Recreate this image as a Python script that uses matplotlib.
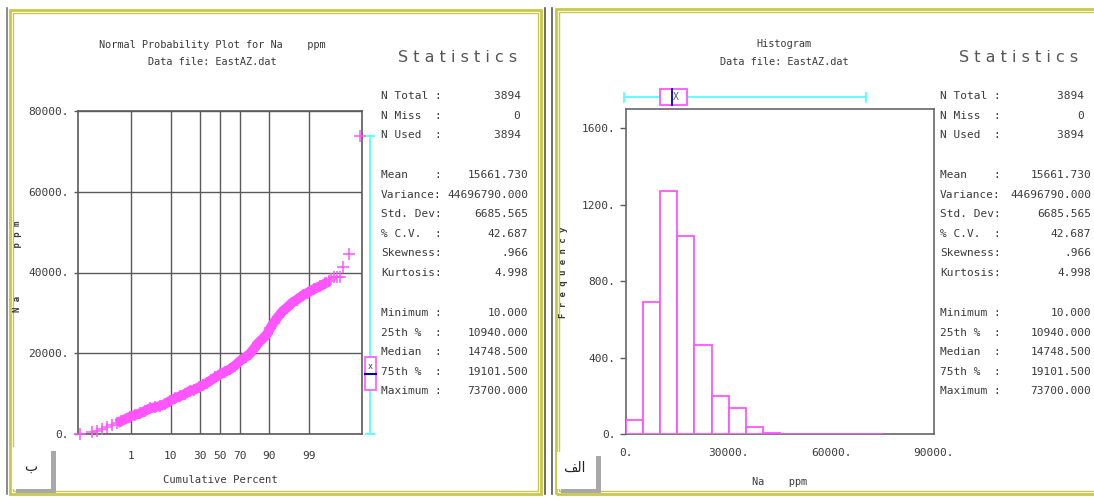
import matplotlib
matplotlib.use("Agg")
import matplotlib.pyplot as plt
from matplotlib.patches import Rectangle
from matplotlib.lines import Line2D
import matplotlib.transforms as mtransforms
from statistics import NormalDist

# ---- data ----
stat_labels = ["N Total :", "N Miss  :", "N Used  :", "",
               "Mean    :", "Variance:", "Std. Dev:", "% C.V.  :", "Skewness:", "Kurtosis:", "",
               "Minimum :", "25th %  :", "Median  :", "75th %  :", "Maximum :"]
stat_values = ["3894 ", "0 ", "3894 ", "",
               "15661.730", "44696790.000", "6685.565", "42.687", ".966", "4.998", "",
               "10.000", "10940.000", "14748.500", "19101.500", "73700.000"]

na_min, na_q1, na_med, na_q3, na_max, na_mean = 10.0, 10940.0, 14748.5, 19101.5, 73700.0, 15661.73

# normal probability plot: cumulative percent vs Na (ppm)
cum_pct = [0.013, 0.04, 0.064, 0.1, 0.155, 0.23, 0.35, 0.5, 0.94, 1.3, 1.8, 2.5, 3.4, 4.5, 6,
           7.5, 9.5, 12, 15, 18, 22, 25, 29, 33, 37, 41, 45, 50, 55, 60, 65, 70, 75, 78, 81,
           84, 87, 89, 90.5, 92, 93.5, 95, 96, 97, 97.8, 98.5, 98.9, 99.3, 99.55, 99.7, 99.78,
           99.82, 99.85, 99.886, 99.912, 99.936, 99.961, 99.987]
na_vals = [10, 570, 820, 1240, 1660, 2150, 2650, 3200, 4290, 4700, 5100, 5700, 6370, 6600, 7000,
           7430, 8170, 8840, 9410, 9910, 10730, 10940, 11560, 12140, 12710, 13380, 14000, 14748,
           15400, 16000, 16900, 18100, 19101, 19800, 21000, 22500, 23700, 24700, 26180, 27600,
           29000, 30500, 31300, 32500, 33300, 34400, 35000, 35900, 36600, 37300, 37800,
           38400, 39000, 39000, 39000, 41300, 44600, 73700]
pct_ticks = [1, 10, 30, 50, 70, 90, 99]

# histogram, bins of 5000 ppm
bin_left = [0, 5000, 10000, 15000, 20000, 25000, 30000, 35000, 40000, 45000, 50000, 55000,
            60000, 65000, 70000]
bin_count = [73, 689, 1270, 1035, 463, 198, 134, 38, 5, 0, 0, 0, 0, 0, 1]

W, H = 1094, 497
MAG = "#ff55ff"
CYAN = "#55ffff"
TXT = "#3a3a3a"
GRID = "#5a5a5a"
OLIVE = "#c8c84a"
MONO = "DejaVu Sans Mono"


def rect(x0, y0, x1, y1):
    return [x0 / W, 1 - y1 / H, (x1 - x0) / W, (y1 - y0) / H]


def ftext(x, y, s, **kw):
    kw.setdefault("family", MONO)
    kw.setdefault("color", TXT)
    kw.setdefault("va", "center")
    fig.text(x / W, 1 - y / H, s, **kw)


def fline(xs, ys, **kw):
    fig.add_artist(Line2D([x / W for x in xs], [1 - y / H for y in ys], **kw))


def fbox(x0, y0, x1, y1, **kw):
    fig.add_artist(Rectangle((x0 / W, 1 - y1 / H), (x1 - x0) / W, (y1 - y0) / H, **kw))


fig = plt.figure(figsize=(W / 100, H / 100), dpi=100)

# ---- panel frames ----
fline([7, 7], [8, 494], color="#777777", lw=1.2)
fline([545, 545], [8, 494], color="#555555", lw=1.2)
fline([552, 552], [8, 494], color="#555555", lw=1.2)
for off, lw in [(0, 2.0), (3, 1.0)]:
    fbox(10 + off, 10 + off, 541 - off, 494 - off, fill=False, ec=OLIVE, lw=lw)
    fbox(556 + off, 9 + off, 1100, 494 - off, fill=False, ec=OLIVE, lw=lw)

# ---- letter tags ----
fbox(16, 451, 56, 493, color="#a8a8a8", lw=0)
fbox(12, 447, 51, 489, color="white", lw=0)
ftext(31, 467, "\u0628", family="DejaVu Sans", fontsize=10, ha="center", color="#222222")
fbox(561, 456, 601, 493, color="#a8a8a8", lw=0)
fbox(557, 452, 596, 489, color="white", lw=0)
ftext(574, 468, "\ufed2\ufedf\ufe8d", family="DejaVu Sans", fontsize=10, ha="center", color="#222222")

# ---- left: normal probability plot ----
nd = NormalDist()
z = [nd.inv_cdf(p / 100) for p in cum_pct]

ax1 = fig.add_axes(rect(78, 111, 362, 434))
ax1.set_xlim(-3.71, 3.71)
ax1.set_ylim(0, 80000)
ax1.set_xticks([nd.inv_cdf(p / 100) for p in pct_ticks])
ax1.set_xticklabels([str(p) for p in pct_ticks])
ax1.set_yticks([0, 20000, 40000, 60000, 80000])
ax1.set_yticklabels(["0.", "20000.", "40000.", "60000.", "80000."])
ax1.grid(True, color=GRID, lw=1)
ax1.tick_params(colors=GRID, labelcolor=TXT, labelsize=8, length=3, width=1)
ax1.tick_params(axis="x", length=0, pad=12)
for lab in ax1.get_xticklabels() + ax1.get_yticklabels():
    lab.set_family(MONO)
for sp in ax1.spines.values():
    sp.set_color(GRID)
    sp.set_linewidth(1.2)

dense = [i for i, p in enumerate(cum_pct) if 0.35 <= p <= 99.78]
ax1.plot([z[i] for i in dense], [na_vals[i] for i in dense], color=MAG, lw=7,
         solid_capstyle="butt", zorder=3)
ax1.plot(z, na_vals, ls="none", marker="+", ms=8.5, mew=1.1, color=MAG, zorder=4,
         clip_on=False)

# vertical box plot beside the axis
bt = mtransforms.blended_transform_factory(ax1.transAxes, ax1.transData)
ax1.add_line(Line2D([1.028, 1.028], [na_min, na_max], transform=bt, color=CYAN, lw=1.3,
                    clip_on=False))
for v in (na_min, na_max):
    ax1.add_line(Line2D([1.014, 1.042], [v, v], transform=bt, color=CYAN, lw=1.3, clip_on=False))
ax1.add_patch(Rectangle((1.011, na_q1), 0.038, na_q3 - na_q1, transform=bt, fc="white", ec=MAG,
                        lw=1.2, clip_on=False, zorder=5))
ax1.add_line(Line2D([1.011, 1.049], [na_med, na_med], transform=bt, color="#0000aa", lw=1.5,
                    clip_on=False, zorder=6))
ax1.text(1.03, na_mean, "x", transform=bt, ha="center", va="bottom", fontsize=6, color=TXT,
         family=MONO, clip_on=False, zorder=6)

ftext(212, 45, "Normal Probability Plot for Na    ppm", fontsize=7.4, ha="center")
ftext(212, 62, "Data file: EastAZ.dat", fontsize=7.4, ha="center")
ftext(220, 480, "Cumulative Percent", fontsize=7.6, ha="center")
ftext(18, 266, "N a         p p m", fontsize=6.5, ha="center", rotation=90, weight="bold")

# ---- right: histogram ----
ax2 = fig.add_axes(rect(626, 109, 934, 434))
ax2.set_xlim(0, 90000)
ax2.set_ylim(0, 1700)
ax2.bar(bin_left, bin_count, width=5000, align="edge", fc="white", ec=MAG, lw=1.3, zorder=3)
ax2.set_xticks([0, 30000, 60000, 90000])
ax2.set_xticklabels(["0.", "30000.", "60000.", "90000."])
ax2.set_yticks([0, 400, 800, 1200, 1600])
ax2.set_yticklabels(["0.", "400.", "800.", "1200.", "1600."])
ax2.tick_params(colors=GRID, labelcolor=TXT, labelsize=8, length=4, width=1)
ax2.tick_params(axis="x", length=0, pad=10)
for lab in ax2.get_xticklabels() + ax2.get_yticklabels():
    lab.set_family(MONO)
for sp in ax2.spines.values():
    sp.set_color("#666666")
    sp.set_linewidth(1.2)

# horizontal box plot above the histogram
ax3 = fig.add_axes(rect(624, 88, 866, 106))
ax3.set_xlim(na_min, na_max)
ax3.set_ylim(0, 1)
ax3.axis("off")
ax3.plot([na_min, na_max], [0.5, 0.5], color=CYAN, lw=1.3, clip_on=False)
for v in (na_min, na_max):
    ax3.plot([v, v], [0.2, 0.75], color=CYAN, lw=1.3, clip_on=False)
ax3.add_patch(Rectangle((na_q1, 0.04), na_q3 - na_q1, 0.92, fc="white", ec=MAG, lw=1.3,
                        zorder=3, clip_on=False))
ax3.plot([na_med, na_med], [0.04, 0.96], color="#0000aa", lw=1.3, zorder=4)
ax3.text(na_mean, 0.5, "X", ha="center", va="center", fontsize=7, color="#555555",
         family=MONO, zorder=5)

ftext(784, 44, "Histogram", fontsize=7.4, ha="center")
ftext(784, 62, "Data file: EastAZ.dat", fontsize=7.4, ha="center")
ftext(780, 482, "Na    ppm", fontsize=7.4, ha="center")
ftext(563, 272, "F r e q u e n c y", fontsize=6.5, ha="center", rotation=90, weight="bold")

# ---- statistics blocks ----
row_y = [96, 116, 135, None, 175, 195, 214, 234, 253, 273, None, 313, 333, 352, 372, 391]
for x_lab, x_val, x_head in [(381, 528, 458), (940, 1091, 1019)]:
    ftext(x_head, 58, "S t a t i s t i c s", family="DejaVu Sans", fontsize=11.5, ha="center",
          color="#555555")
    for lab, val, y in zip(stat_labels, stat_values, row_y):
        if y is None:
            continue
        ftext(x_lab, y, lab, fontsize=8, ha="left")
        ftext(x_val, y, val, fontsize=8, ha="right")

fig.savefig("out.png", dpi=100)
